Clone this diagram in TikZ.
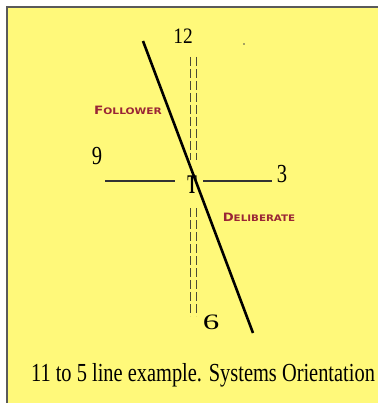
\documentclass[tikz,border=0pt]{standalone}
\usepackage{fontspec}
\setmainfont{Liberation Serif}
\newfontfamily\tagfont{DejaVu Sans}
\usetikzlibrary{positioning}
\definecolor{PaperYellow}{HTML}{FFF97A}
\definecolor{FrameGray}{HTML}{5A5A5A}
\definecolor{TagRed}{HTML}{9A2636}
\definecolor{GuideGray}{HTML}{4A4A35}
\newcommand{\fakesc}[2]{{\fontsize{11.5}{11.5}\selectfont #1}{\fontsize{9}{9}\selectfont #2}}
\tikzset{
  hournum/.style={inner sep=0pt, transform shape, font=\fontsize{22}{22}\selectfont, xscale=0.88},
  tagtext/.style={inner sep=0pt, transform shape, text=TagRed, font=\tagfont\bfseries, xscale=1.18},
  guideline/.style={draw=GuideGray, line width=1pt, dash pattern=on 9pt off 3pt},
  armline/.style={draw=black!80, line width=1.4pt},
  orientline/.style={draw=black, line width=2.6pt}
}
\begin{document}
\begin{tikzpicture}[x=1pt, y=-1pt]
  \useasboundingbox (0,0) rectangle (378,403);
  \fill[PaperYellow] (7,7) rectangle (378,403);
  \draw[FrameGray, line width=1.2pt] (7,403) -- (7,7) -- (378,7);

  % clock labels
  \node[hournum] (twelve) at (183,36) {12};
  \node[hournum, font=\fontsize{26}{26}\selectfont, xscale=0.9] (nine)  at (97,156) {9};
  \node[hournum, font=\fontsize{26}{26}\selectfont, xscale=0.9] (three) at (282,174) {3};
  \node[hournum, font=\fontsize{22}{22}\selectfont, xscale=1.7] (six) at (211,322) {6};
  \node[hournum, font=\fontsize{27}{27}\selectfont\bfseries, xscale=0.6] (centre) at (192,185) {T};

  % arms of the cross
  \coordinate (armLa) at (105,181);
  \coordinate (armLb) at (175,181);
  \coordinate (armRa) at (203,181);
  \coordinate (armRb) at (272,181);
  \draw[armline] (armLa) -- (armLb);
  \draw[armline] (armRa) -- (armRb);

  % double dashed 12--6 guide
  \foreach \x in {190,196} {
    \coordinate (up\x a) at (\x,57);
    \coordinate (up\x b) at (\x,160);
    \coordinate (dn\x a) at (\x,208);
    \coordinate (dn\x b) at (\x,316);
    \draw[guideline] (up\x a) -- (up\x b);
    \draw[guideline] (dn\x a) -- (dn\x b);
  }

  % 11 to 5 line
  \coordinate (eleven) at (143,41);
  \coordinate (five)   at (253,333);
  \draw[orientline] (eleven) -- (five);

  \fill[black!70] (244,44) circle (0.8pt);

  \node[tagtext] (follower)   at (128,110) {\fakesc{F}{OLLOWER}};
  \node[tagtext, xscale=0.97] (deliberate) at (259,217) {\fakesc{D}{ELIBERATE}};

  \node[inner sep=0pt, transform shape, font=\fontsize{26}{26}\selectfont, xscale=0.785] (caption) at (203,375)
    {11 to 5 line example. Systems Orientation};
\end{tikzpicture}
\end{document}
